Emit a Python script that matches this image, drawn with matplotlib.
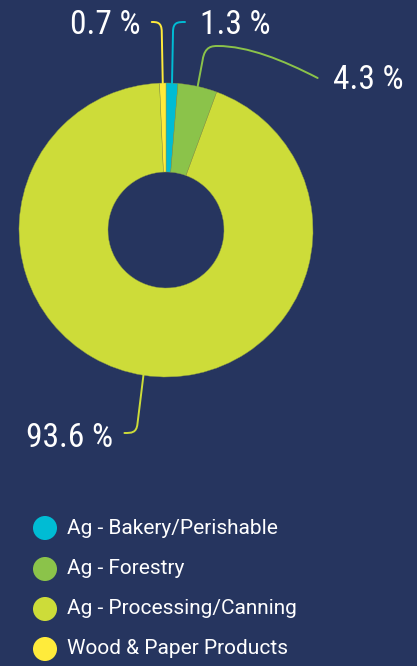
import numpy as np
import matplotlib
matplotlib.use("Agg")
import matplotlib.pyplot as plt
from matplotlib.path import Path
from matplotlib.patches import PathPatch

# data, clockwise from 12 o'clock
categories = ["Ag - Bakery/Perishable", "Ag - Forestry",
              "Ag - Processing/Canning", "Wood & Paper Products"]
shares = [1.3, 4.3, 93.6, 0.7]
colors = ["#00bcd4", "#8bc34a", "#cddc39", "#ffeb3b"]
value_labels = ["1.3 %", "4.3 %", "93.6 %", "0.7 %"]

BG = "#26355f"
W, H = 417, 666
CX, CY, R, R_IN = 166, 230, 147, 58

big_font = ["Roboto Condensed", "Roboto", "DejaVu Sans"]
legend_font = ["Roboto", "DejaVu Sans"]

fig = plt.figure(figsize=(W / 100, H / 100), dpi=100, facecolor=BG)
ax = fig.add_axes([0, 0, 1, 1])
ax.axis("off")

def py(y):
    # pixel rows counted from the top
    return H - y

wedges, _ = ax.pie(shares, colors=colors, startangle=90, counterclock=False,
                   radius=R, center=(CX, py(CY)),
                   wedgeprops=dict(width=R - R_IN, edgecolor="#8a9a45", linewidth=0.3))
ax.set_xlim(0, W)
ax.set_ylim(0, H)
ax.set_aspect("equal")

# leader lines: start at the outer rim of each wedge's middle angle
def rim_point(w):
    a = np.deg2rad((w.theta1 + w.theta2) / 2)
    return CX + R * np.cos(a), CY - R * np.sin(a)

def leader(pts, codes, color):
    verts = [(x, py(y)) for x, y in pts]
    ax.add_patch(PathPatch(Path(verts, codes), fill=False, edgecolor=color,
                           linewidth=1.4, capstyle="round"))

M, L, C = Path.MOVETO, Path.LINETO, Path.CURVE4

# bakery
x0, y0 = rim_point(wedges[0])
leader([(x0, y0), (x0 + 1, 32), (x0 + 1, 22), (x0 + 6, 22), (x0 + 13, 22)],
       [M, L, C, C, C], colors[0])
# forestry
x0, y0 = rim_point(wedges[1])
leader([(x0, y0), (x0 + 5, 60), (x0 + 7, 46), (x0 + 15, 46), (x0 + 20, 46),
        (x0 + 50, 46), (x0 + 85, 60), (x0 + 120, 78)],
       [M, L, C, C, C, C, C, C], colors[1])
# processing
x0, y0 = rim_point(wedges[2])
leader([(x0, y0), (x0 - 6, 424), (x0 - 7, 433), (x0 - 12, 433), (x0 - 19, 433)],
       [M, L, C, C, C], colors[2])
# wood
x0, y0 = rim_point(wedges[3])
leader([(x0, y0), (x0 - 1, 32), (x0 - 1, 22), (x0 - 6, 22), (x0 - 11, 22)],
       [M, L, C, C, C], colors[3])

label_pos = [(200, 25, "left"), (333, 80, "left"), (113, 438, "right"), (141, 25, "right")]
for txt, (lx, ly, ha) in zip(value_labels, label_pos):
    ax.text(lx, py(ly), txt, color="white", fontsize=24, family=big_font,
            ha=ha, va="center")

# legend
leg_y = [528, 569, 609, 649]
for cat, col, ly in zip(categories, colors, leg_y):
    ax.scatter([45], [py(ly)], s=24 ** 2 * 0.52, color=col, edgecolors="none")
    ax.text(67, py(ly), cat, color="white", fontsize=15, family=legend_font,
            ha="left", va="center")

fig.savefig("out.png", dpi=100, facecolor=BG)
